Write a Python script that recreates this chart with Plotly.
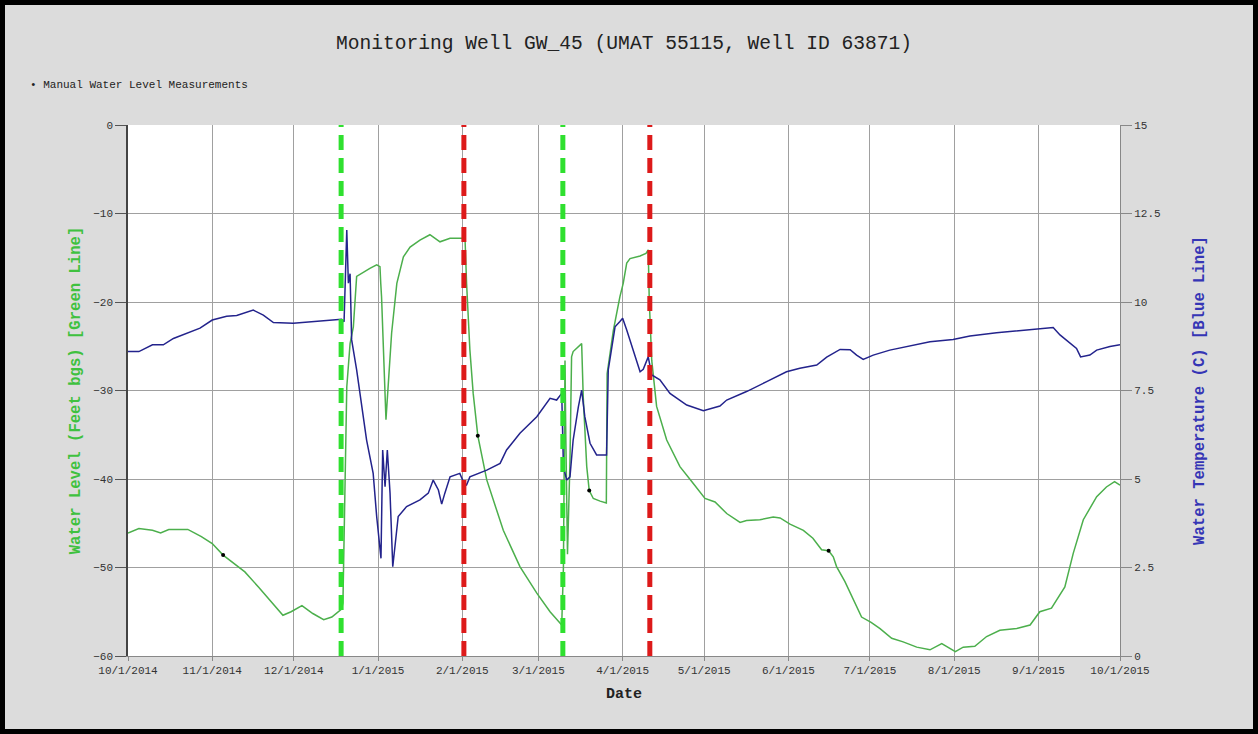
import plotly.graph_objects as go

# ---------------- data ----------------
level_dates = [
    "2014-10-01", "2014-10-05", "2014-10-10", "2014-10-13", "2014-10-16", "2014-10-23",
    "2014-10-28", "2014-11-01", "2014-11-05", "2014-11-13", "2014-11-18", "2014-11-23",
    "2014-11-27", "2014-11-30", "2014-12-04", "2014-12-08", "2014-12-12", "2014-12-15",
    "2014-12-18 14:00", "2014-12-19 02:00", "2014-12-19 20:00", "2014-12-20 12:00",
    "2014-12-21 17:00", "2014-12-22 22:00", "2014-12-24 03:00", "2014-12-26 14:00",
    "2014-12-29", "2014-12-31 12:00", "2015-01-01 17:00", "2015-01-02 00:00",
    "2015-01-02 07:00", "2015-01-03 22:00", "2015-01-05 10:00", "2015-01-06",
    "2015-01-07 22:00", "2015-01-10 08:00", "2015-01-12 19:00", "2015-01-16 10:00",
    "2015-01-20 02:00", "2015-01-23 19:00", "2015-01-27 12:00", "2015-02-02",
    "2015-02-02 14:00", "2015-02-03 19:00", "2015-02-05", "2015-02-06 17:00",
    "2015-02-10", "2015-02-16 02:00", "2015-02-22 05:00", "2015-02-28 10:00",
    "2015-03-05 07:00", "2015-03-09 14:00", "2015-03-10 05:00", "2015-03-10 19:00",
    "2015-03-11 02:00", "2015-03-11 17:00", "2015-03-12 15:00", "2015-03-13 05:00",
    "2015-03-13 19:00", "2015-03-15 17:00", "2015-03-16 22:00", "2015-03-17 12:00",
    "2015-03-18 19:00", "2015-03-19 17:00", "2015-03-21 05:00", "2015-03-23 17:00",
    "2015-03-26", "2015-03-26 07:00", "2015-03-28 14:00", "2015-03-31",
    "2015-04-01 05:00", "2015-04-02 12:00", "2015-04-03 17:00", "2015-04-07 10:00",
    "2015-04-09 14:00", "2015-04-10 10:00", "2015-04-10 19:00", "2015-04-11 17:00",
    "2015-04-13 12:00", "2015-04-17 05:00", "2015-04-22 02:00", "2015-04-27",
    "2015-05-01 07:00", "2015-05-05", "2015-05-09 07:00", "2015-05-14 05:00",
    "2015-05-16 14:00", "2015-05-21 12:00", "2015-05-26 10:00", "2015-05-28 22:00",
    "2015-06-01 14:00", "2015-06-06 12:00", "2015-06-10", "2015-06-13 05:00",
    "2015-06-15 19:00", "2015-06-17 12:00", "2015-06-18 17:00", "2015-06-21 19:00",
    "2015-06-24 22:00", "2015-06-27 22:00", "2015-07-01 10:00", "2015-07-04 17:00",
    "2015-07-09", "2015-07-13 05:00", "2015-07-18 05:00", "2015-07-23 02:00",
    "2015-07-27 10:00", "2015-08-01 10:00", "2015-08-04 07:00", "2015-08-08 14:00",
    "2015-08-12 22:00", "2015-08-17 19:00", "2015-08-24", "2015-08-28 22:00",
    "2015-09-01 12:00", "2015-09-05 19:00", "2015-09-10 17:00", "2015-09-13 19:00",
    "2015-09-17 12:00", "2015-09-22 10:00", "2015-09-26", "2015-09-29", "2015-10-01",
]
water_level_ft = [
    -46.1, -45.6, -45.8, -46.1, -45.7, -45.7,
    -46.5, -47.3, -48.6, -50.5, -52.2, -54.0,
    -55.4, -55.0, -54.3, -55.2, -55.9, -55.6,
    -54.7, -54.0, -38.6, -29.6,
    -24.7, -22.8, -17.1, -16.6,
    -16.2, -15.8, -16.0, -17.9,
    -19.4, -33.3, -25.8, -23.5,
    -17.9, -14.9, -13.8, -13.0,
    -12.4, -13.2, -12.8, -12.8,
    -17.9, -25.4, -30.3, -35.1,
    -40.1, -45.8, -49.9, -52.9,
    -55.0, -56.5, -50.0, -26.6,
    -35.0, -48.5, -38.0, -26.2,
    -25.6, -25.0, -24.7, -30.7,
    -38.6, -41.3, -42.2, -42.5,
    -42.7, -28.1, -23.2, -19.4,
    -17.9, -15.6, -15.1, -14.8,
    -14.5, -14.1, -19.8, -26.6,
    -31.8, -35.6, -38.6, -40.5,
    -42.2, -42.6, -43.9, -44.9,
    -44.7, -44.6, -44.3, -44.4,
    -45.1, -45.8, -46.7, -48.0,
    -48.1, -48.8, -49.9, -51.6,
    -53.7, -55.6, -56.2, -56.9,
    -58.0, -58.4, -59.0, -59.3,
    -58.6, -59.5, -59.0, -58.9,
    -57.8, -57.1, -56.9, -56.5,
    -55.0, -54.6, -52.2, -48.4,
    -44.6, -42.0, -40.9, -40.3, -40.7,
]

temp_dates = [
    "2014-10-01", "2014-10-05", "2014-10-10", "2014-10-14", "2014-10-17 17:00",
    "2014-10-23", "2014-10-27 12:00", "2014-11-01", "2014-11-06 07:00", "2014-11-10",
    "2014-11-16 02:00", "2014-11-19 19:00", "2014-11-23 12:00", "2014-11-30 19:00",
    "2014-12-10 14:00", "2014-12-18 14:00", "2014-12-19 12:00", "2014-12-20 12:00",
    "2014-12-21 02:00", "2014-12-21 17:00", "2014-12-22 07:00", "2014-12-24 03:00",
    "2014-12-27 19:00", "2014-12-29", "2014-12-30 05:00", "2014-12-31 12:00",
    "2015-01-02 02:00", "2015-01-02 17:00", "2015-01-03 14:00", "2015-01-04 10:00",
    "2015-01-05 10:00", "2015-01-06 10:00", "2015-01-08 10:00", "2015-01-11 12:00",
    "2015-01-16 10:00", "2015-01-19 12:00", "2015-01-21 07:00", "2015-01-23 05:00",
    "2015-01-24 10:00", "2015-01-25 14:00", "2015-01-27 12:00", "2015-01-31 02:00",
    "2015-02-01 10:00", "2015-02-02 14:00", "2015-02-03 19:00", "2015-02-10",
    "2015-02-14 22:00", "2015-02-17 07:00", "2015-02-22 05:00", "2015-02-28 10:00",
    "2015-03-05 07:00", "2015-03-07 17:00", "2015-03-09 14:00", "2015-03-10 05:00",
    "2015-03-11 10:00", "2015-03-12 15:00", "2015-03-13 19:00", "2015-03-15 17:00",
    "2015-03-16 22:00", "2015-03-18 02:00", "2015-03-20", "2015-03-22 10:00",
    "2015-03-26 02:00", "2015-03-26 17:00", "2015-03-29 05:00", "2015-03-31",
    "2015-04-01", "2015-04-02 12:00", "2015-04-04 22:00", "2015-04-07 10:00",
    "2015-04-08 14:00", "2015-04-10 10:00", "2015-04-11 17:00", "2015-04-14 17:00",
    "2015-04-18 10:00", "2015-04-24 14:00", "2015-04-30 17:00", "2015-05-06 19:00",
    "2015-05-09 07:00", "2015-05-16 14:00", "2015-05-24", "2015-05-31 07:00",
    "2015-06-05 05:00", "2015-06-11 10:00", "2015-06-15 02:00", "2015-06-20",
    "2015-06-23 17:00", "2015-06-26 02:00", "2015-06-28 12:00", "2015-07-02 05:00",
    "2015-07-08 07:00", "2015-07-16 22:00", "2015-07-23 02:00", "2015-07-31 14:00",
    "2015-08-06 19:00", "2015-08-16 14:00", "2015-08-26 10:00", "2015-09-06 10:00",
    "2015-09-08 22:00", "2015-09-12 14:00", "2015-09-15", "2015-09-16 12:00",
    "2015-09-19 22:00", "2015-09-22 10:00", "2015-09-27 07:00", "2015-10-01",
]
water_temp_c = [
    8.60, 8.60, 8.79, 8.79, 8.97,
    9.12, 9.26, 9.49, 9.60, 9.62,
    9.77, 9.63, 9.42, 9.40,
    9.47, 9.51, 9.44, 12.03,
    10.53, 10.80, 8.93, 8.08,
    6.10, 5.63, 5.16, 3.94,
    2.76, 5.82, 4.78, 5.82,
    4.60, 2.52, 3.94, 4.22,
    4.41, 4.60, 4.97, 4.69,
    4.29, 4.60, 5.06, 5.16,
    4.92, 4.83, 5.06, 5.25,
    5.44, 5.82, 6.29, 6.76,
    7.28, 7.23, 7.42, 5.35,
    4.97, 5.06, 6.10, 7.04,
    7.51, 6.76, 6.01, 5.68,
    5.68, 8.08, 9.30, 9.45,
    9.54, 9.21, 8.64, 8.03,
    8.10, 8.45, 7.94, 7.80,
    7.42, 7.09, 6.93, 7.06,
    7.23, 7.47, 7.75, 8.03,
    8.13, 8.22, 8.44, 8.66,
    8.65, 8.50, 8.38, 8.50,
    8.64, 8.79, 8.88, 8.94,
    9.04, 9.13, 9.21, 9.28,
    9.07, 8.83, 8.69, 8.45,
    8.50, 8.64, 8.74, 8.79,
]

manual_dates = ["2014-11-05", "2015-02-06 17:00", "2015-03-19 17:00", "2015-06-15 19:00"]
manual_level_ft = [-48.6, -35.1, -41.3, -48.1]

event_dates = ["2014-12-18 10:00", "2015-02-01 14:00", "2015-03-10", "2015-04-11"]
event_kinds = ["start", "stop", "start", "stop"]

month_ticks = ["2014-10-01", "2014-11-01", "2014-12-01", "2015-01-01", "2015-02-01",
               "2015-03-01", "2015-04-01", "2015-05-01", "2015-06-01", "2015-07-01",
               "2015-08-01", "2015-09-01", "2015-10-01"]
month_labels = ["10/1/2014", "11/1/2014", "12/1/2014", "1/1/2015", "2/1/2015",
                "3/1/2015", "4/1/2015", "5/1/2015", "6/1/2015", "7/1/2015",
                "8/1/2015", "9/1/2015", "10/1/2015"]
level_ticks = [0, -10, -20, -30, -40, -50, -60]
temp_ticks = [0, 2.5, 5, 7.5, 10, 12.5, 15]
temp_tick_labels = ["0", "2.5", "5", "7.5", "10", "12.5", "15"]

# ---------------- figure ----------------
MONO = "Liberation Mono, Courier New, monospace"
GREEN = "#4caf4c"
BLUE = "#23238c"
kind_color = {"start": "#2fe02f", "stop": "#dd1a1a"}

fig = go.Figure()
fig.add_trace(go.Scatter(x=level_dates, y=water_level_ft, mode="lines",
                         line=dict(color=GREEN, width=1.5), name="Water Level",
                         showlegend=False))
fig.add_trace(go.Scatter(x=temp_dates, y=water_temp_c, mode="lines", yaxis="y2",
                         line=dict(color=BLUE, width=1.5), name="Water Temperature",
                         showlegend=False))
fig.add_trace(go.Scatter(x=manual_dates, y=manual_level_ft, mode="markers",
                         marker=dict(color="black", size=4),
                         name="Manual Water Level Measurements", showlegend=False))

shapes = []
for d, k in zip(event_dates, event_kinds):
    shapes.append(dict(type="line", xref="x", yref="paper", x0=d, x1=d, y0=0, y1=1,
                       line=dict(color=kind_color[k], width=5, dash="15px,8px"),
                       layer="above"))

fig.update_layout(
    width=1258, height=734,
    margin=dict(l=128, r=138, t=125, b=78),
    paper_bgcolor="#dcdcdc",
    plot_bgcolor="white",
    font=dict(family=MONO, size=11, color="#333333"),
    title=dict(text="Monitoring Well GW_45 (UMAT 55115, Well ID 63871)",
               x=0.5, xref="paper", y=1 - 42 / 734, yanchor="middle",
               font=dict(family=MONO, size=19.6, color="#222222")),
    xaxis=dict(type="date", range=["2014-10-01", "2015-10-01"],
               tickvals=month_ticks, ticktext=month_labels,
               showgrid=True, gridcolor="#a0a0a0", gridwidth=1,
               ticks="outside", ticklen=4, tickcolor="#888888",
               showline=True, linecolor="#888888", linewidth=1,
               tickfont=dict(family=MONO, size=11, color="#333333"),
               title=dict(text="<b>Date</b>", standoff=11,
                          font=dict(family=MONO, size=15, color="#222222"))),
    yaxis=dict(range=[-60, 0], tickvals=level_ticks,
               showgrid=True, gridcolor="#a0a0a0", gridwidth=1,
               ticks="outside", ticklen=11, tickcolor="#555555",
               showline=True, linecolor="#444444", linewidth=1.5,
               zeroline=False,
               tickfont=dict(family=MONO, size=11, color="#333333"),
               title=dict(text="<b>Water Level (Feet bgs) [Green Line]</b>", standoff=9,
                          font=dict(family=MONO, size=15.6, color="#3fc13f"))),
    yaxis2=dict(range=[0, 15], overlaying="y", side="right",
                tickvals=temp_ticks, ticktext=temp_tick_labels,
                showgrid=False, ticks="outside", ticklen=11, tickcolor="#888888",
                showline=True, linecolor="#888888", linewidth=1, zeroline=False,
                tickfont=dict(family=MONO, size=11, color="#333333"),
                title=dict(text="<b>Water Temperature (C) [Blue Line]</b>", standoff=33,
                           font=dict(family=MONO, size=15.6, color="#3535b5"))),
    shapes=shapes,
    annotations=[dict(text="\u2022 Manual Water Level Measurements", xref="paper",
                      yref="paper", x=(28 - 128) / 992, y=(656 - 85) / 531,
                      xanchor="left", yanchor="middle", showarrow=False,
                      font=dict(family=MONO, size=11, color="#222222"))],
)

# page tweaks: no body margin, and a black picture frame drawn over the figure
frame_js = (
    "document.body.style.margin='0';"
    "var f=document.createElement('div');"
    "f.style.cssText='position:fixed;left:0;top:0;width:1258px;height:734px;"
    "box-sizing:border-box;border:5px solid black;pointer-events:none;z-index:10000;';"
    "document.body.appendChild(f);"
)
fig.write_html("out.html", config={"displayModeBar": False}, post_script=frame_js)
